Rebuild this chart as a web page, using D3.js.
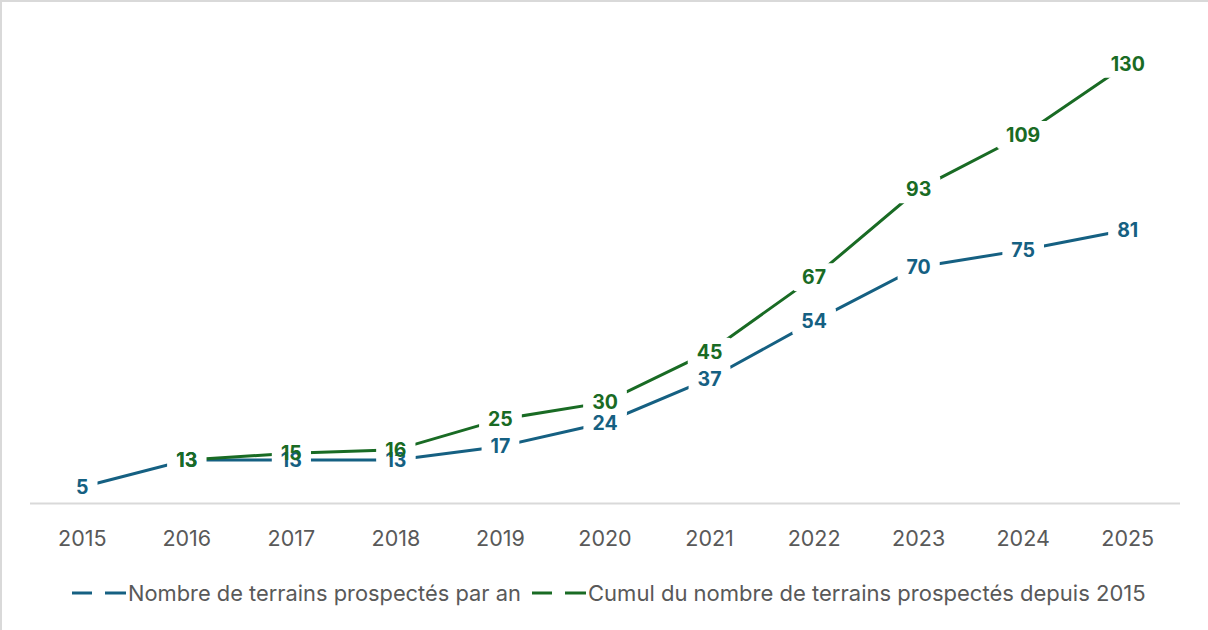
<!DOCTYPE html>
<html lang="fr">
<head>
<meta charset="utf-8">
<title>Terrains prospectés</title>
<script src="https://d3js.org/d3.v7.min.js"></script>
<style>
  body { margin: 0; background: #fff; }
  svg { display: block; font-family: Inter, "Liberation Sans", sans-serif; }
</style>
</head>
<body>
<svg id="chart" width="1208" height="630"></svg>
<script>
// data
var years = ["2015", "2016", "2017", "2018", "2019", "2020", "2021", "2022", "2023", "2024", "2025"];
var parAn = [5, 13, 13, 13, 17, 24, 37, 54, 70, 75, 81];
var cumul = [null, 13, 15, 16, 25, 30, 45, 67, 93, 109, 130];
var seriesNames = ["Nombre de terrains prospectés par an", "Cumul du nombre de terrains prospectés depuis 2015"];
var colors = ["#156082", "#196B24"];

var svg = d3.select("#chart");

// frame (only left and top edges show)
svg.append("line").attr("x1", 1).attr("x2", 1).attr("y1", 0).attr("y2", 630)
  .attr("stroke", "#d9d9d9").attr("stroke-width", 2);
svg.append("line").attr("x1", 0).attr("x2", 1208).attr("y1", 1).attr("y2", 1)
  .attr("stroke", "#d9d9d9").attr("stroke-width", 2);

var x = d3.scaleBand().domain(years).range([30, 1180]);
var y = d3.scaleLinear().domain([0, 140]).range([504, 30]);
var cx = function(i) { return x(years[i]) + x.bandwidth() / 2; };

// axis line
svg.append("line").attr("x1", 30).attr("x2", 1180).attr("y1", 503.5).attr("y2", 503.5)
  .attr("stroke", "#d9d9d9").attr("stroke-width", 2);

// tick labels
svg.append("g").selectAll("text").data(years).enter().append("text")
  .attr("x", function(d) { return x(d) + x.bandwidth() / 2; })
  .attr("y", 546)
  .attr("text-anchor", "middle")
  .attr("font-size", 21.5)
  .attr("fill", "#595959")
  .text(function(d) { return d; });

var allSeries = [parAn, cumul];
var line = d3.line()
  .defined(function(d) { return d != null; })
  .x(function(d, i) { return cx(i); })
  .y(function(d) { return y(d); });

allSeries.forEach(function(vals, s) {
  svg.append("path").datum(vals)
    .attr("d", line)
    .attr("fill", "none")
    .attr("stroke", colors[s])
    .attr("stroke-width", 3);
});

// data labels: all white backgrounds first, then the texts
var bgLayer = svg.append("g");
var txtLayer = svg.append("g");
allSeries.forEach(function(vals, s) {
  vals.forEach(function(v, i) {
    if (v == null) return;
    var t = txtLayer.append("text")
      .attr("x", cx(i)).attr("y", y(v))
      .attr("text-anchor", "middle")
      .attr("dy", "0.36em")
      .attr("font-size", 19.5)
      .attr("font-weight", "bold")
      .attr("fill", colors[s])
      .text(v);
    var w = t.node().getComputedTextLength();
    bgLayer.append("rect").attr("fill", "#fff")
      .attr("x", cx(i) - w / 2 - 9).attr("y", y(v) - 14)
      .attr("width", w + 18).attr("height", 28).attr("rx", 3);
  });
});

// legend
var legendX = [72, 532];
var legendW = [393, 558];
seriesNames.forEach(function(name, s) {
  var lg = svg.append("g").attr("transform", "translate(" + legendX[s] + ",593)");
  lg.append("line").attr("x1", 0).attr("x2", 20).attr("y1", 0).attr("y2", 0)
    .attr("stroke", colors[s]).attr("stroke-width", 3);
  lg.append("line").attr("x1", 33).attr("x2", 54).attr("y1", 0).attr("y2", 0)
    .attr("stroke", colors[s]).attr("stroke-width", 3);
  var t = lg.append("text").attr("x", 56).attr("y", 0).attr("dy", "0.35em")
    .attr("font-size", 20).attr("fill", "#595959").text(name);
  var w = t.node().getComputedTextLength();
  t.attr("font-size", 20 * legendW[s] / w);
});
</script>
</body>
</html>
